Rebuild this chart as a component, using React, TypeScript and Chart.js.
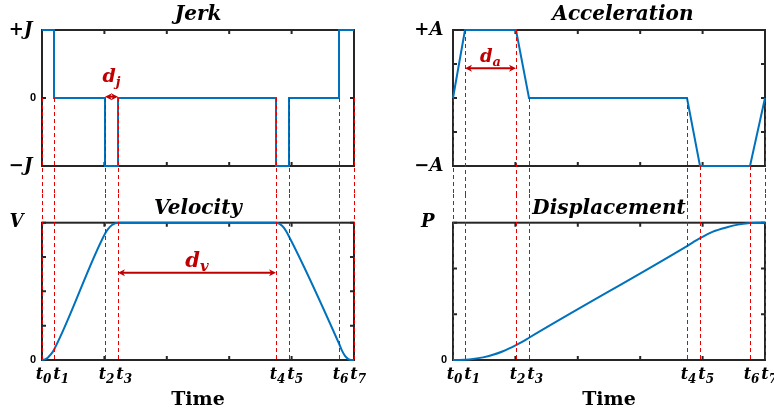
import React, { useEffect, useRef } from 'react';
import { Chart, registerables } from 'chart.js';

Chart.register(...registerables);

// ---------------- data ----------------
const T = [0, 12, 63, 76, 234, 247, 297, 312];
const T_LABEL_MAIN = 't';
const T_LABEL_SUBS = ['0', '1', '2', '3', '4', '5', '6', '7'];
const X_MARKS = [0, 62.4, 124.8, 187.2, 249.6, 312];

const JERK_X = [0, 12, 12, 63, 63, 76, 76, 234, 234, 247, 247, 297, 297, 312];
const JERK_Y = [1, 1, 0, 0, -1, -1, 0, 0, -1, -1, 0, 0, 1, 1];
const JERK_TICKS = [-1, 0, 1];
const JERK_TICK_LABELS = ['−J\u2009', '0', '+J\u2009'];

const ACC_X = [0, 12, 63, 76, 234, 247, 297, 312];
const ACC_Y = [0, 1, 1, 0, 0, -1, -1, 0];
const ACC_TICKS = [-1, -0.5, 0, 0.5, 1];
const ACC_TICK_LABELS = ['−A\u2009', '', '', '', '+A\u2009'];

const VEL_X = [0, 3, 6, 9, 12, 63, 66, 70, 76, 234, 238, 242, 247, 297, 300, 303, 306, 309, 312];
const VEL_Y = [0, 0.005, 0.019, 0.042, 0.075, 0.92, 0.953, 0.983, 1, 1, 0.99, 0.962, 0.9, 0.12, 0.068, 0.03, 0.008, 0, 0];
const VEL_TICKS = [0, 0.25, 0.5, 0.75, 1];
const VEL_TICK_LABELS = ['0', '', '', '', 'V  '];

const DISP_X = [0, 6, 12, 20, 30, 40, 50, 63, 70, 76, 234, 240, 247, 260, 274, 285, 297, 304, 312];
const DISP_Y = [0, 0.0002, 0.0015, 0.007, 0.019, 0.038, 0.064, 0.108, 0.135, 0.162, 0.83, 0.857, 0.887, 0.935, 0.967, 0.986, 0.997, 1, 1];
const DISP_TICKS = [0, 1 / 3, 2 / 3, 1];
const DISP_TICK_LABELS = ['0', '', '', 'P  '];

// ---------------- styles ----------------
const BLUE = '#0072BD';
const AXIS = '#262626';
const GUIDE = '#E60000';
const ANN = '#C00000';
const SERIF = '"DejaVu Serif", serif';
const LABEL_FONT = { family: SERIF, size: 18, style: 'italic' as const, weight: 'bold' as const };
const ZERO_FONT = { family: '"Liberation Sans", Arial, sans-serif', size: 11, weight: 'bold' as const };

type Ann = { main: string; sub: string; i0: number; i1: number; arrowY: number; textDy: number; size: number };

interface Panel {
  xs: number[];
  ys: number[];
  smooth: boolean;
  yMin: number;
  yMax: number;
  yTicks: number[];
  yLabels: string[];
  title: string;
  titleBottom: number;
  axisW: number;
  rightPad: number;
  bottomH: number;
  lower: boolean;
  guides: number[] | null;
  anns: Ann[];
}

function arrowHead(ctx: CanvasRenderingContext2D, x: number, y: number, dir: number) {
  ctx.beginPath();
  ctx.moveTo(x, y);
  ctx.lineTo(x - dir * 7, y - 3.5);
  ctx.lineTo(x - dir * 5, y);
  ctx.lineTo(x - dir * 7, y + 3.5);
  ctx.closePath();
  ctx.fill();
}

function framePlugin(p: Panel) {
  return {
    id: 'frame',
    beforeDatasetsDraw(chart: any) {
      const { ctx, chartArea: a } = chart;
      const x = chart.scales.x;
      const y = chart.scales.y;
      ctx.save();
      ctx.strokeStyle = AXIS;
      ctx.lineWidth = 2;
      ctx.strokeRect(a.left, a.top, a.right - a.left, a.bottom - a.top);
      ctx.beginPath();
      X_MARKS.forEach((v) => {
        const px = x.getPixelForValue(v);
        ctx.moveTo(px, a.top);
        ctx.lineTo(px, a.top + 4);
        ctx.moveTo(px, a.bottom);
        ctx.lineTo(px, a.bottom - 4);
      });
      y.ticks.forEach((t: any) => {
        const py = y.getPixelForValue(t.value);
        ctx.moveTo(a.left, py);
        ctx.lineTo(a.left + 4, py);
        ctx.moveTo(a.right, py);
        ctx.lineTo(a.right - 4, py);
      });
      ctx.stroke();
      ctx.restore();
    },
    afterDraw(chart: any) {
      const { ctx, chartArea: a } = chart;
      const x = chart.scales.x;
      const y = chart.scales.y;
      ctx.save();
      // vertical guide lines at t0..t7
      ctx.strokeStyle = GUIDE;
      ctx.lineWidth = 1;
      ctx.setLineDash([4, 3]);
      T.forEach((t, i) => {
        const px = Math.round(x.getPixelForValue(t)) + 0.5;
        const y0 = p.lower ? 0 : y.getPixelForValue(p.guides ? p.guides[i] : 0);
        const y1 = p.lower ? a.bottom : chart.height;
        ctx.beginPath();
        ctx.moveTo(px, y0);
        ctx.lineTo(px, y1);
        ctx.stroke();
      });
      ctx.setLineDash([]);

      // time labels t0..t7 with subscripts
      if (p.lower) {
        const mainFont = `italic bold 16px ${SERIF}`;
        const subFont = `italic bold 12px ${SERIF}`;
        const base = a.bottom + 19;
        let prevEnd = -Infinity;
        ctx.fillStyle = '#000';
        ctx.textAlign = 'left';
        ctx.textBaseline = 'alphabetic';
        T.forEach((t, i) => {
          const px = x.getPixelForValue(t);
          ctx.font = mainFont;
          const w1 = ctx.measureText(T_LABEL_MAIN).width;
          ctx.font = subFont;
          const w2 = ctx.measureText(T_LABEL_SUBS[i]).width;
          const w = w1 + w2;
          const xs = Math.max(px - w / 2 + 1.5, prevEnd + 2);
          ctx.font = mainFont;
          ctx.fillText(T_LABEL_MAIN, xs, base);
          ctx.font = subFont;
          ctx.fillText(T_LABEL_SUBS[i], xs + w1, base + 4);
          prevEnd = xs + w;
        });
      }

      // annotations (double arrows with d_x labels)
      p.anns.forEach((an) => {
        const x0 = x.getPixelForValue(T[an.i0]);
        const x1 = x.getPixelForValue(T[an.i1]);
        const py = y.getPixelForValue(an.arrowY);
        ctx.strokeStyle = ANN;
        ctx.fillStyle = ANN;
        ctx.lineWidth = 2;
        ctx.beginPath();
        ctx.moveTo(x0 + 5, py);
        ctx.lineTo(x1 - 5, py);
        ctx.stroke();
        arrowHead(ctx, x0, py, -1);
        arrowHead(ctx, x1, py, 1);
        const mainFont = `italic bold ${an.size}px ${SERIF}`;
        const subFont = `italic bold ${Math.round(an.size * 0.7)}px ${SERIF}`;
        ctx.font = mainFont;
        const wm = ctx.measureText(an.main).width;
        ctx.font = subFont;
        const ws = ctx.measureText(an.sub).width;
        const xs = (x0 + x1) / 2 - (wm + ws) / 2;
        const base = py + an.textDy;
        ctx.textBaseline = 'alphabetic';
        ctx.textAlign = 'left';
        ctx.font = mainFont;
        ctx.fillText(an.main, xs, base);
        ctx.font = subFont;
        ctx.fillText(an.sub, xs + wm, base + 4);
      });
      ctx.restore();
    },
  };
}

function makeChart(canvas: HTMLCanvasElement, p: Panel) {
  const data = p.xs.map((xv, i) => ({ x: xv, y: p.ys[i] }));
  return new Chart(canvas, {
    type: 'line',
    data: {
      datasets: [
        {
          data,
          borderColor: BLUE,
          borderWidth: 2,
          pointRadius: 0,
          fill: false,
          tension: 0,
          cubicInterpolationMode: p.smooth ? 'monotone' : 'default',
          clip: false as any,
          borderJoinStyle: 'miter',
        } as any,
      ],
    },
    options: {
      animation: false,
      responsive: false,
      maintainAspectRatio: false,
      devicePixelRatio: 1,
      events: [],
      layout: { padding: { left: 0, right: p.rightPad, top: 0, bottom: 0 } },
      plugins: {
        legend: { display: false },
        tooltip: { enabled: false },
        title: {
          display: true,
          text: p.title,
          fullSize: false,
          color: '#000',
          font: { family: SERIF, size: 20, style: 'italic', weight: 'bold', lineHeight: 1.2 },
          padding: { top: 3, bottom: p.titleBottom },
        },
      },
      scales: {
        x: {
          type: 'linear',
          min: 0,
          max: 312,
          afterBuildTicks: (s: any) => {
            s.ticks = T.map((v) => ({ value: v }));
          },
          afterFit: (s: any) => {
            s.height = p.bottomH;
            s.paddingLeft = 0;
            s.paddingRight = 0;
          },
          grid: { display: false, drawTicks: false },
          border: { display: false },
          ticks: { display: false },
          title: {
            display: p.lower,
            text: 'Time',
            color: '#000',
            font: { family: SERIF, size: 19, weight: 'bold', lineHeight: 1.2 },
            padding: { top: 0, bottom: 6 },
          },
        },
        y: {
          type: 'linear',
          min: p.yMin,
          max: p.yMax,
          afterBuildTicks: (s: any) => {
            s.ticks = p.yTicks.map((v) => ({ value: v }));
          },
          afterFit: (s: any) => {
            s.width = p.axisW;
            s.paddingTop = 0;
            s.paddingBottom = 0;
          },
          grid: { display: false, drawTicks: false },
          border: { display: false },
          ticks: {
            autoSkip: false,
            padding: 6,
            color: '#000',
            callback: (_v: any, i: number) => p.yLabels[i],
            font: (ctx: any) => (p.yLabels[ctx.index] === '0' ? ZERO_FONT : LABEL_FONT),
          },
        },
      },
    } as any,
    plugins: [framePlugin(p)],
  });
}

export default function App() {
  const r1 = useRef<HTMLCanvasElement>(null);
  const r2 = useRef<HTMLCanvasElement>(null);
  const r3 = useRef<HTMLCanvasElement>(null);
  const r4 = useRef<HTMLCanvasElement>(null);

  useEffect(() => {
    const common = { titleBottom: 3, bottomH: 28, lower: false };
    const lowerCommon = { titleBottom: 1.7, bottomH: 57, lower: true, guides: null };
    const charts = [
      makeChart(r1.current!, {
        ...common,
        xs: JERK_X, ys: JERK_Y, smooth: false,
        yMin: -1, yMax: 1, yTicks: JERK_TICKS, yLabels: JERK_TICK_LABELS,
        title: 'Jerk', axisW: 42, rightPad: 33,
        guides: T.map(() => 0),
        anns: [{ main: 'd', sub: 'j', i0: 2, i1: 3, arrowY: 0.02, textDy: -14.7, size: 19 }],
      }),
      makeChart(r2.current!, {
        ...lowerCommon,
        xs: VEL_X, ys: VEL_Y, smooth: true,
        yMin: 0, yMax: 1, yTicks: VEL_TICKS, yLabels: VEL_TICK_LABELS,
        title: 'Velocity', axisW: 42, rightPad: 33,
        anns: [{ main: 'd', sub: 'v', i0: 3, i1: 4, arrowY: 0.636, textDy: -6, size: 21 }],
      }),
      makeChart(r3.current!, {
        ...common,
        xs: ACC_X, ys: ACC_Y, smooth: false,
        yMin: -1, yMax: 1, yTicks: ACC_TICKS, yLabels: ACC_TICK_LABELS,
        title: '    Acceleration', axisW: 66, rightPad: 9,
        guides: ACC_Y,
        anns: [{ main: 'd', sub: 'a', i0: 1, i1: 2, arrowY: 0.437, textDy: -6.3, size: 18 }],
      }),
      makeChart(r4.current!, {
        ...lowerCommon,
        xs: DISP_X, ys: DISP_Y, smooth: true,
        yMin: 0, yMax: 1, yTicks: DISP_TICKS, yLabels: DISP_TICK_LABELS,
        title: 'Displacement', axisW: 66, rightPad: 9,
        anns: [],
      }),
    ];
    return () => charts.forEach((c) => c.destroy());
  }, []);

  const cs = (left: number, top: number, w: number, h: number): React.CSSProperties => ({
    position: 'absolute', left, top, width: w, height: h, display: 'block',
  });

  return (
    <div style={{ position: 'fixed', left: 0, top: 0, width: 774, height: 417, background: '#fff', overflow: 'hidden' }}>
      <canvas ref={r1} width={387} height={194} style={cs(0, 0, 387, 194)} />
      <canvas ref={r2} width={387} height={223} style={cs(0, 194, 387, 223)} />
      <canvas ref={r3} width={387} height={194} style={cs(387, 0, 387, 194)} />
      <canvas ref={r4} width={387} height={223} style={cs(387, 194, 387, 223)} />
    </div>
  );
}
